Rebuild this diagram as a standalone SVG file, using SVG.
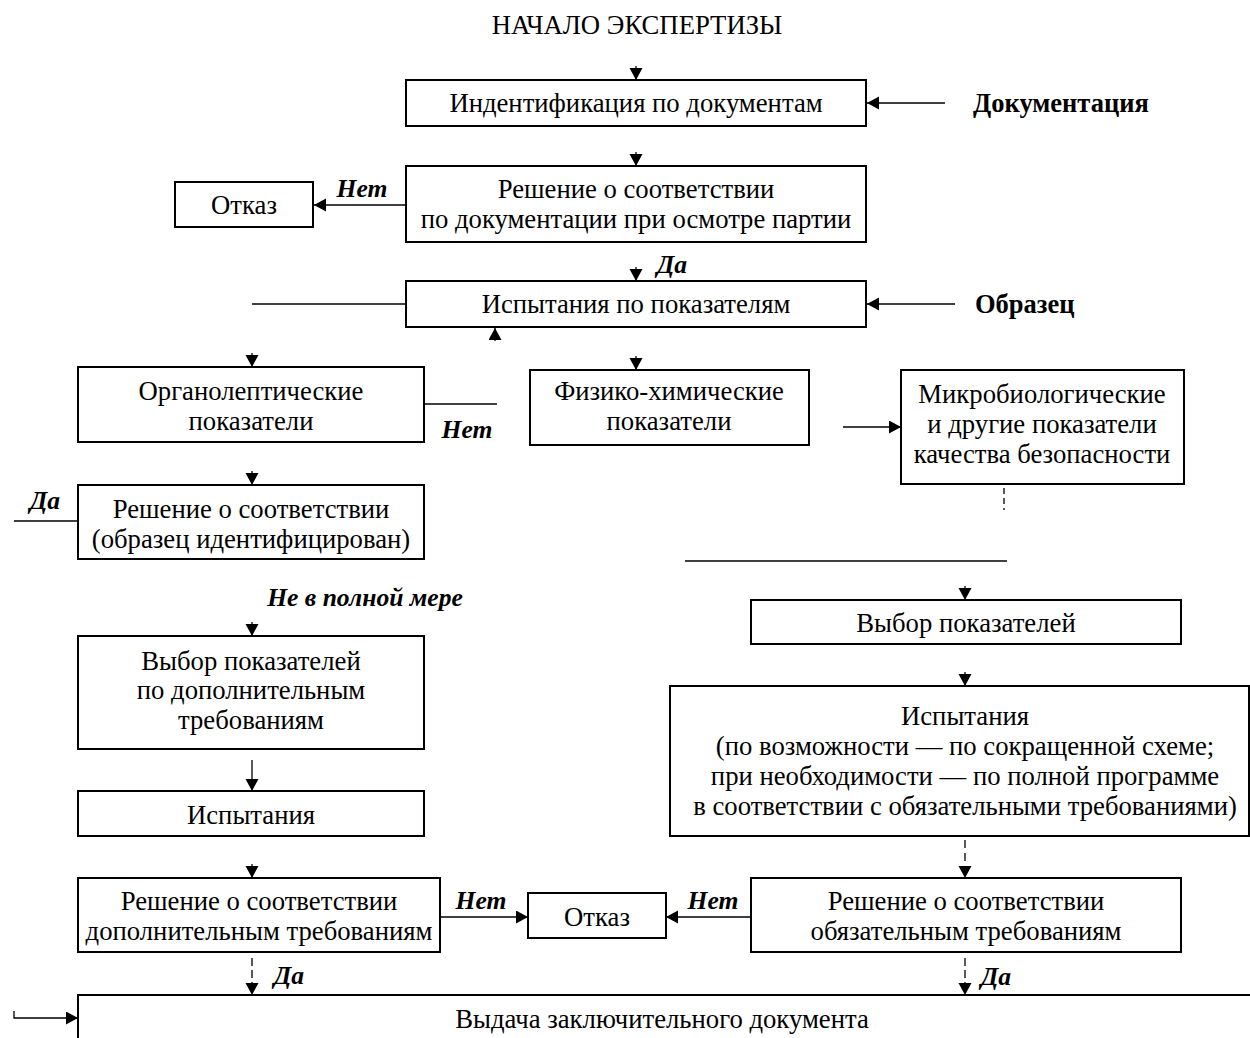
<svg xmlns="http://www.w3.org/2000/svg" width="1250" height="1038" viewBox="0 0 1250 1038">
<defs>
<marker id="ah" markerUnits="userSpaceOnUse" markerWidth="14" markerHeight="14" refX="12" refY="6.5" orient="auto"><path d="M0,0 L12,6.5 L0,13 z" fill="#000"/></marker>
<style>
.box{fill:#fff;stroke:#000;stroke-width:2}
.t{font-family:"Liberation Serif","Times New Roman",serif;font-size:26.7px;fill:#000;text-anchor:middle}
.b{font-family:"Liberation Serif","Times New Roman",serif;font-size:26.5px;font-weight:bold;fill:#000}
.l{font-family:"Liberation Serif","Times New Roman",serif;font-size:25.6px;font-weight:bold;font-style:italic;fill:#000;text-anchor:middle}
.c{fill:none;stroke:#000;stroke-width:1.3}
.a{fill:none;stroke:#000;stroke-width:1.3;marker-end:url(#ah)}
</style>
</defs>
<rect width="1250" height="1038" fill="#fff"/>
<text class="t" x="637" y="34">НАЧАЛО ЭКСПЕРТИЗЫ</text>

<g id="connectors">
<line class="a" x1="636" y1="66" x2="636" y2="80"/>
<line class="a" x1="945" y1="103" x2="867" y2="103"/>
<line class="a" x1="636" y1="152" x2="636" y2="166"/>
<line class="a" x1="406" y1="205" x2="314" y2="205"/>
<line class="a" x1="636" y1="267" x2="636" y2="281"/>
<line class="c" x1="252" y1="304" x2="406" y2="304"/>
<line class="a" x1="955" y1="304" x2="867" y2="304"/>
<line class="a" x1="495" y1="341" x2="495" y2="328"/>
<line class="a" x1="252" y1="353" x2="252" y2="367"/>
<line class="c" x1="424" y1="404" x2="497" y2="404"/>
<line class="a" x1="636" y1="356" x2="636" y2="370"/>
<line class="a" x1="843" y1="427" x2="901" y2="427"/>
<line class="a" x1="252" y1="471" x2="252" y2="485"/>
<line class="c" x1="14" y1="521" x2="78" y2="521"/>
<line class="c" x1="1004" y1="488" x2="1004" y2="510" stroke-dasharray="6,4"/>
<line class="c" x1="685" y1="561" x2="1007" y2="561"/>
<line class="a" x1="965" y1="586" x2="965" y2="600"/>
<line class="a" x1="252" y1="622" x2="252" y2="636"/>
<line class="a" x1="965" y1="672" x2="965" y2="686"/>
<line class="a" x1="252" y1="760" x2="252" y2="791"/>
<line class="a" x1="252" y1="864" x2="252" y2="878"/>
<line class="a" x1="965" y1="840" x2="965" y2="878" stroke-dasharray="8,5"/>
<line class="a" x1="440" y1="917" x2="528" y2="917"/>
<line class="a" x1="751" y1="917" x2="666" y2="917"/>
<line class="a" x1="252" y1="958" x2="252" y2="995" stroke-dasharray="8,4"/>
<line class="a" x1="965" y1="958" x2="965" y2="995" stroke-dasharray="8,4"/>
<polyline class="a" points="14,1011 14,1018 78,1018"/>
</g>

<g id="n1"><rect class="box" x="406" y="80" width="460" height="46"/><text class="t" x="636" y="112">Индентификация по документам</text></g>
<g id="n2"><rect class="box" x="406" y="166" width="460" height="76"/><text class="t" x="636" y="198">Решение о соответствии</text><text class="t" x="636" y="228">по документации при осмотре партии</text></g>
<g id="n3"><rect class="box" x="175" y="182" width="138" height="45"/><text class="t" x="244" y="214">Отказ</text></g>
<g id="n4"><rect class="box" x="406" y="281" width="460" height="46"/><text class="t" x="636" y="313">Испытания по показателям</text></g>
<g id="n5"><rect class="box" x="78" y="367" width="346" height="75"/><text class="t" x="251" y="400">Органолептические</text><text class="t" x="251" y="430">показатели</text></g>
<g id="n6"><rect class="box" x="530" y="370" width="279" height="75"/><text class="t" x="669" y="400">Физико-химические</text><text class="t" x="669" y="430">показатели</text></g>
<g id="n7"><rect class="box" x="901" y="370" width="283" height="114"/><text class="t" x="1042" y="403">Микробиологические</text><text class="t" x="1042" y="433">и другие показатели</text><text class="t" x="1042" y="463">качества безопасности</text></g>
<g id="n8"><rect class="box" x="78" y="485" width="346" height="74"/><text class="t" x="251" y="518">Решение о соответствии</text><text class="t" x="251" y="548">(образец идентифицирован)</text></g>
<g id="n9"><rect class="box" x="751" y="600" width="430" height="44"/><text class="t" x="966" y="632">Выбор показателей</text></g>
<g id="n10"><rect class="box" x="78" y="636" width="346" height="113"/><text class="t" x="251" y="670">Выбор показателей</text><text class="t" x="251" y="699">по дополнительным</text><text class="t" x="251" y="729">требованиям</text></g>
<g id="n11"><rect class="box" x="670" y="686" width="579" height="150"/><text class="t" x="965" y="725">Испытания</text><text class="t" x="965" y="755">(по возможности — по сокращенной схеме;</text><text class="t" x="965" y="785">при необходимости — по полной программе</text><text class="t" x="965" y="815">в соответствии с обязательными требованиями)</text></g>
<g id="n12"><rect class="box" x="78" y="791" width="346" height="45"/><text class="t" x="251" y="824">Испытания</text></g>
<g id="n13"><rect class="box" x="78" y="878" width="362" height="74"/><text class="t" x="259" y="910">Решение о соответствии</text><text class="t" x="259" y="940">дополнительным требованиям</text></g>
<g id="n14"><rect class="box" x="528" y="893" width="138" height="45"/><text class="t" x="597" y="926">Отказ</text></g>
<g id="n15"><rect class="box" x="751" y="878" width="430" height="74"/><text class="t" x="966" y="910">Решение о соответствии</text><text class="t" x="966" y="940">обязательным требованиям</text></g>
<g id="n16"><rect class="box" x="78" y="995" width="1190" height="60"/><text class="t" x="662" y="1028">Выдача заключительного документа</text></g>

<g id="labels">
<text class="b" x="973" y="112">Документация</text>
<text class="b" x="975" y="313">Образец</text>
<text class="l" x="362" y="197">Нет</text>
<text class="l" x="672" y="273">Да</text>
<text class="l" x="467" y="438">Нет</text>
<text class="l" x="45" y="509">Да</text>
<text class="l" x="365" y="606">Не в полной мере</text>
<text class="l" x="481" y="909">Нет</text>
<text class="l" x="713" y="909">Нет</text>
<text class="l" x="289" y="984">Да</text>
<text class="l" x="996" y="985">Да</text>
</g>
</svg>
